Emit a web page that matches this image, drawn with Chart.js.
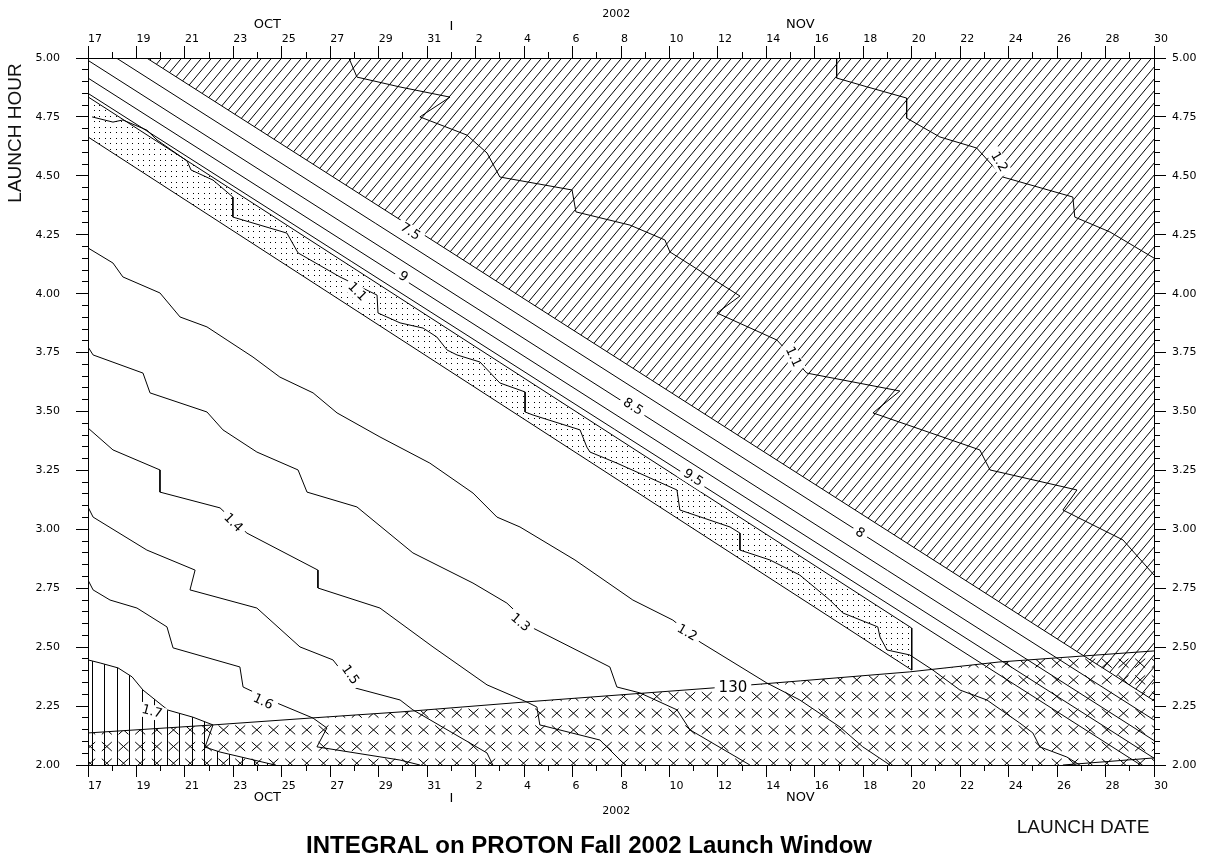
<!DOCTYPE html>
<html><head><meta charset="utf-8">
<script src="https://cdn.jsdelivr.net/npm/chart.js@4.4.0/dist/chart.umd.min.js"></script>
<style>html,body{margin:0;padding:0;background:#fff;}#wrap{width:1205px;height:857px;}</style>
</head><body><div id="wrap"><canvas id="c" width="1205" height="857"></canvas></div>
<script>
// ---- tick labels ----
const dateLabels = ['17','19','21','23','25','27','29','31','2','4','6','8','10','12','14','16','18','20','22','24','26','28','30'];
const hourLabels = ['2.00','2.25','2.50','2.75','3.00','3.25','3.50','3.75','4.00','4.25','4.50','4.75','5.00'];
const monthNames = ['OCT','I','NOV'];
const monthDays = [7.4, 15, 29.4];
const yearName = '2002';
const yearDay = 21.8;

// ---- contour lines: [day since Oct 17, launch hour] ----
const band75 = [[2.42,5.0],[44,2.273]];
const band80 = [[1.17,5.0],[44,2.191]];
const band85 = [[0,4.99],[44,2.104]];
const band90 = [[0,4.915],[44,2.029]];
const band95 = [[0,4.85],[43.45,2.0]];
const dotTop = [[0,4.835],[34.0,2.581]];
const dotBottom = [[0,4.665],[34.0,2.403]];
const dotEdge = [[34.0,2.581],[34.0,2.403]];
const line130 = [[0,2.136],[5.16,2.170],[9.29,2.200],[12.88,2.225],[18.12,2.268],[25.8,2.327],[29.4,2.357],[33.9,2.395],[37.6,2.437],[44,2.484]];
const c11low = [[0.17,4.750],[1.03,4.728],[1.44,4.737],[2.43,4.694],[2.85,4.652],[4.09,4.563],[4.25,4.525],[5.16,4.482],[5.98,4.410],[5.98,4.325],[8.21,4.257],[8.67,4.173],[10.40,4.071],[11.93,3.994],[11.97,3.918],[12.88,3.876],[13.83,3.854],[14.40,3.816],[14.82,3.761],[15.23,3.740],[16.18,3.710],[17.00,3.621],[18.04,3.583],[18.04,3.498],[18.37,3.485],[20.31,3.422],[20.59,3.349],[20.72,3.328],[21.83,3.281],[24.31,3.167],[24.43,3.082],[26.50,3.010],[26.91,2.984],[26.91,2.912],[28.15,2.870],[29.38,2.806],[30.62,2.700],[31.16,2.645],[32.60,2.586],[32.69,2.543],[32.98,2.488],[33.92,2.467],[34.87,2.403],[35.99,2.318],[37.10,2.276],[38.46,2.178],[39.00,2.136],[39.29,2.077],[40.40,2.034],[40.94,2.0]];
const c11high = [[10.77,5.0],[11.10,4.919],[12.88,4.877],[14.94,4.834],[13.70,4.750],[15.64,4.673],[16.47,4.597],[17.00,4.495],[19.98,4.440],[20.14,4.347],[22.37,4.291],[23.81,4.228],[24.02,4.177],[26.91,3.990],[25.96,3.918],[28.44,3.803],[29.67,3.663],[33.51,3.587],[32.40,3.494],[36.81,3.337],[37.23,3.252],[40.82,3.167],[40.24,3.082],[42.72,2.955],[43.71,2.840],[44,2.806]];
const c12high = [[30.90,5.0],[30.90,4.915],[32.14,4.878],[33.79,4.830],[33.79,4.745],[35.16,4.665],[36.68,4.618],[37.76,4.495],[40.65,4.410],[40.73,4.325],[42.18,4.262],[44,4.151]];
const c12low = [[0,4.194],[1.03,4.130],[1.44,4.071],[2.97,4.003],[3.80,3.901],[4.91,3.859],[5.74,3.803],[6.81,3.731],[7.92,3.646],[9.29,3.579],[10.28,3.494],[12.05,3.392],[14.11,3.281],[15.89,3.154],[16.88,3.052],[17.83,3.010],[20.10,2.870],[22.49,2.700],[24.14,2.615],[25.26,2.522],[28.02,2.348],[29.38,2.276],[31.04,2.161],[31.98,2.077],[33.10,2.0]];
const c13 = [[0,3.774],[0.21,3.740],[2.27,3.663],[2.56,3.579],[4.91,3.498],[5.57,3.422],[6.97,3.328],[8.67,3.252],[9.04,3.158],[11.10,3.095],[13.41,2.900],[15.89,2.772],[17.29,2.687],[18.37,2.581],[21.54,2.416],[21.83,2.331],[22.78,2.306],[24.31,2.234],[24.85,2.149],[27.32,2.0]];
const c14 = [[0,3.430],[1.03,3.337],[2.97,3.252],[2.97,3.158],[5.45,3.091],[6.56,2.984],[9.49,2.827],[9.49,2.751],[12.05,2.666],[14.24,2.501],[16.47,2.340],[18.12,2.267],[18.53,2.246],[18.65,2.170],[21.13,2.106],[22.08,2.009],[22.2,2.0]];
const c15 = [[0,3.095],[0.21,3.052],[2.43,2.912],[4.21,2.836],[4.42,2.827],[4.21,2.743],[6.97,2.666],[8.75,2.501],[10.11,2.446],[11.02,2.327],[12.88,2.276],[13.41,2.234],[16.47,2.051],[16.71,2.0]];
const c16 = [[0,2.785],[0.21,2.743],[0.91,2.700],[2.02,2.666],[3.26,2.586],[3.51,2.497],[6.27,2.416],[6.40,2.331],[7.80,2.263],[9.29,2.199],[9.86,2.157],[9.45,2.077],[12.88,2.021],[13.70,2.0]];
const c17 = [[0,2.446],[0.50,2.433],[1.24,2.412],[1.82,2.374],[2.27,2.318],[3.30,2.233],[4.33,2.203],[5.16,2.170],[4.83,2.076],[5.45,2.055],[7.39,2.008],[7.72,2.0]];
const bottomEdge = [[40.24,2.0],[44,2.03]];

// contour labels: text, day, hour
const labelTexts = ['7.5','8','8.5','9','9.5','1.1','1.1','1.2','1.2','1.3','1.4','1.5','1.6','1.7','130'];
const labelDays  = [13.29,31.86,22.49,13.0,24.97,11.10,29.10,37.60,24.72,17.83,5.98,10.81,7.22,2.64,26.62];
const labelHours = [4.262,2.984,3.519,4.071,3.218,4.007,3.731,4.559,2.560,2.603,3.027,2.382,2.267,2.225,2.327];
const labelAngles = [33,33,33,33,33,45,65,60,30,40,45,55,25,15,0];

// ---- patterns ----
const mainCtx = document.getElementById('c').getContext('2d');
function tile(w,h,fn){const cv=document.createElement('canvas');cv.width=w;cv.height=h;const g=cv.getContext('2d');fn(g);return mainCtx.createPattern(cv,'repeat');}
const hatchPat = tile(10,12,g=>{g.strokeStyle='#000';g.lineWidth=1;for(const o of [-10,0,10]){g.beginPath();g.moveTo(o,12);g.lineTo(o+10,0);g.stroke();}});
const vertPat = tile(25,10,g=>{g.fillStyle='#000';g.fillRect(4,0,1,10);g.fillRect(17,0,1,10);});
const crossPat = tile(50,50,g=>{g.strokeStyle='#000';g.lineWidth=1;const cs=[6.8,23.5,40.2],rs=[13.2,29.9,46.5];
  for(const ox of [-50,0,50])for(const oy of [-50,0,50])for(const cx of cs)for(const cy of rs){const X=cx+ox,Y=cy+oy;g.beginPath();g.moveTo(X-5,Y-4.5);g.lineTo(X+5,Y+4.5);g.moveTo(X+5,Y-4.5);g.lineTo(X-5,Y+4.5);g.stroke();}});
const dotPat = tile(11,11,g=>{g.fillStyle='#000';[[0,0],[6,0],[0,6],[6,6]].forEach(p=>g.fillRect(p[0],p[1],1,1));});

function ds(arr, extra){
  return Object.assign({data:arr.map(p=>({x:p[0],y:p[1]})),borderColor:'#000',borderWidth:1,pointRadius:0,tension:0,fill:false,xAxisID:'x',yAxisID:'y'},extra||{});
}
const datasets = [
  ds(band75,{fill:'end',backgroundColor:hatchPat}),   //0
  ds(line130,{fill:'start',backgroundColor:crossPat}),//1
  ds(c17,{fill:'start',backgroundColor:vertPat}),     //2
  ds(dotTop,{fill:4,backgroundColor:dotPat}),         //3
  ds(dotBottom),                                      //4
  ds(dotEdge),
  ds(band80), ds(band85), ds(band90), ds(band95),
  ds(c11low), ds(c11high), ds(c12high), ds(c12low),
  ds(c13), ds(c14), ds(c15), ds(c16), ds(bottomEdge)
];

const tickFont = {family:'DejaVu Sans', size:11};
function majorX(pos, pad, h){
  return {type:'linear',position:pos,min:0,max:44,weight:1,
    ticks:{stepSize:2,autoSkip:false,maxRotation:0,minRotation:0,align:'start',padding:pad,color:'#000',font:tickFont,
      callback:v=>dateLabels[Math.round(v/2)]},
    grid:{drawOnChartArea:false,drawTicks:true,tickLength:12,tickColor:'#000',tickWidth:1},
    border:{display:true,color:'#000',width:1},
    afterFit:s=>{s.height=h;}};
}
function minorX(pos){
  return {type:'linear',position:pos,min:0,max:44,weight:0,
    ticks:{display:false,stepSize:1,autoSkip:false},
    grid:{drawOnChartArea:false,drawTicks:true,tickLength:6,tickColor:'#000',tickWidth:1},
    border:{display:false},afterFit:s=>{s.height=0;}};
}
function majorY(pos, pad, w){
  return {type:'linear',position:pos,min:2,max:5,weight:1,
    ticks:{stepSize:0.25,autoSkip:false,padding:pad,color:'#000',font:tickFont,
      callback:v=>hourLabels[Math.round((v-2)*4)]},
    grid:{drawOnChartArea:false,drawTicks:true,tickLength:12,tickColor:'#000',tickWidth:1},
    border:{display:true,color:'#000',width:1},
    afterFit:s=>{s.width=w;}};
}
function minorY(pos){
  return {type:'linear',position:pos,min:2,max:5,weight:0,
    ticks:{display:false,stepSize:0.05,autoSkip:false},
    grid:{drawOnChartArea:false,drawTicks:true,tickLength:6,tickColor:'#000',tickWidth:1},
    border:{display:false},afterFit:s=>{s.width=0;}};
}

const annot = {
  id:'annot',
  beforeDraw(chart){const c=chart.ctx;c.save();c.fillStyle='#fff';c.fillRect(0,0,chart.width,chart.height);c.restore();},
  afterDatasetsDraw(chart){
    const c=chart.ctx, xs=chart.scales.x, ys=chart.scales.y;
    c.save();
    c.beginPath();c.rect(chart.chartArea.left,chart.chartArea.top,chart.chartArea.right-chart.chartArea.left,chart.chartArea.bottom-chart.chartArea.top);c.clip();
    labelTexts.forEach((t,i)=>{
      const px=xs.getPixelForValue(labelDays[i]), py=ys.getPixelForValue(labelHours[i]);
      const size = t==='130'?15:13;
      c.save();c.translate(px,py);c.rotate(labelAngles[i]*Math.PI/180);
      c.font=size+'px "DejaVu Sans"';
      const w=c.measureText(t).width;
      c.fillStyle='#fff';c.fillRect(-w/2-4,-size*0.55,w+8,size*1.1);
      c.fillStyle='#000';c.textAlign='center';c.textBaseline='middle';c.fillText(t,0,0);
      c.restore();
    });
    c.restore();
  },
  afterDraw(chart){
    const c=chart.ctx, xs=chart.scales.x;
    c.save();c.fillStyle='#000';c.textAlign='center';c.textBaseline='middle';
    monthNames.forEach((m,i)=>{
      const px=xs.getPixelForValue(monthDays[i]);
      c.font='13px "DejaVu Sans"';
      c.fillText(m,px,m==='I'?27:25);
      c.fillText(m,px,m==='I'?799:797.5);
    });
    c.font='11px "DejaVu Sans"';
    const py=xs.getPixelForValue(yearDay);
    c.fillText(yearName,py,14);
    c.fillText(yearName,py,811);
    c.fillStyle='#111';
    c.font='19px "Liberation Sans", Arial, sans-serif';
    c.fillText('LAUNCH DATE',1083,828);
    c.save();c.translate(16,133);c.rotate(-Math.PI/2);c.fillText('LAUNCH HOUR',0,0);c.restore();
    c.fillStyle='#000';
    c.font='bold 24px "Liberation Sans", Arial, sans-serif';
    c.textBaseline='alphabetic';
    c.fillText('INTEGRAL on PROTON Fall 2002 Launch Window',589,853);
    c.restore();
  }
};

new Chart(document.getElementById('c'),{
  type:'line',
  data:{datasets},
  options:{
    responsive:false,animation:false,events:[],
    layout:{padding:0},
    plugins:{legend:{display:false},tooltip:{enabled:false},title:{display:false}},
    scales:{
      x:majorX('bottom',3,92), xMinor:minorX('bottom'),
      xTop:majorX('top',0,58), xTopMinor:minorX('top'),
      y:majorY('left',16,88), yMinor:minorY('left'),
      yRight:majorY('right',6,51), yRightMinor:minorY('right')
    }
  },
  plugins:[annot]
});
</script></body></html>
